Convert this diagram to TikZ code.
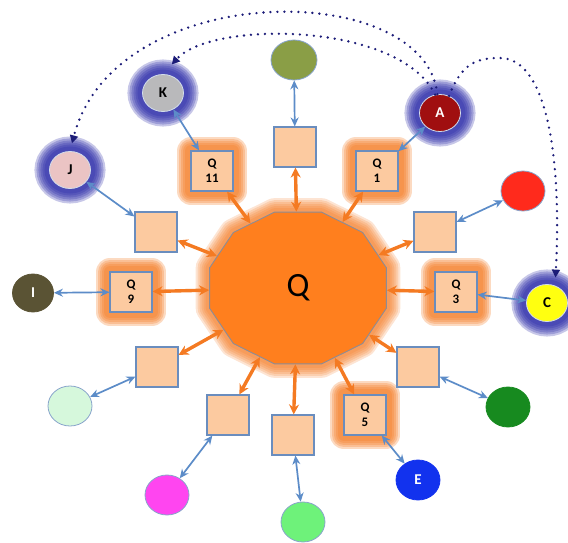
\documentclass[tikz,border=0pt]{standalone}
\usepackage{fontspec}
\setmainfont{Carlito}
\usetikzlibrary{shapes.geometric, arrows.meta}

\definecolor{peach}{HTML}{FCCAA0}
\definecolor{steel}{HTML}{6A8DBE}
\definecolor{linkblue}{HTML}{5C8CC8}
\definecolor{hubfill}{HTML}{FF7F1E}
\definecolor{hubedge}{HTML}{8C8C96}
\definecolor{glowor}{HTML}{F47A22}
\definecolor{navyglow}{HTML}{2626A6}
\definecolor{dotnavy}{HTML}{1C1C78}
\definecolor{olivetop}{HTML}{8A9E46}
\definecolor{kgray}{HTML}{B9B9BB}
\definecolor{adark}{HTML}{A00F10}
\definecolor{jpink}{HTML}{EBC4C4}
\definecolor{redc}{HTML}{FF2A1C}
\definecolor{idark}{HTML}{5A5334}
\definecolor{cyellow}{HTML}{FFFF10}
\definecolor{mint}{HTML}{D6F8DC}
\definecolor{magent}{HTML}{FF45F0}
\definecolor{lgreen}{HTML}{6EF27A}
\definecolor{eblue}{HTML}{1232EE}
\definecolor{dgreen}{HTML}{178A1F}

\tikzset{
  % soft halo built from stacked translucent outlines
  orglow/.style={line join=round, draw=glowor, draw opacity=.28},
  blueglow/.style={draw=navyglow, draw opacity=.26},
  box/.style={rectangle, draw=steel, line width=1.1pt, fill=peach,
    minimum width=42pt, minimum height=40pt, inner sep=0pt,
    font=\bfseries\fontsize{13}{15}\selectfont, align=center},
  hotbox/.style={box,
    preaction={orglow, line width=28pt},
    preaction={orglow, line width=24pt},
    preaction={orglow, line width=20pt},
    preaction={orglow, line width=16pt},
    preaction={orglow, line width=12pt}},
  ball/.style={ellipse, draw=steel!80, line width=.8pt,
    minimum width=44pt, minimum height=40pt, inner sep=0pt,
    font=\bfseries\fontsize{15}{15}\selectfont},
  haloball/.style={ball, draw=white!70!steel,
    minimum width=41pt, minimum height=37pt,
    preaction={blueglow, line width=30pt},
    preaction={blueglow, line width=26pt},
    preaction={blueglow, line width=22pt},
    preaction={blueglow, line width=18pt},
    preaction={blueglow, line width=14pt},
    preaction={blueglow, line width=10pt}},
  hub/.style={regular polygon, regular polygon sides=12, minimum size=157pt,
    inner sep=0pt, fill=hubfill, draw=hubedge, line width=.9pt,
    preaction={orglow, draw opacity=.2, line width=28pt},
    preaction={orglow, draw opacity=.2, line width=24pt},
    preaction={orglow, draw opacity=.2, line width=20pt},
    preaction={orglow, draw opacity=.2, line width=16pt},
    preaction={orglow, draw opacity=.2, line width=12pt},
    preaction={orglow, draw opacity=.2, line width=8pt}},
  spoke/.style={draw=glowor, line width=3.4pt,
    {Stealth[length=10pt,width=10pt]}-{Stealth[length=10pt,width=10pt]}},
  link/.style={draw=linkblue, line width=1.7pt,
    {Stealth[length=9pt,width=8pt]}-{Stealth[length=9pt,width=8pt]}},
  dotline/.style={draw=dotnavy, line width=2.6pt, line cap=round,
    dash pattern=on 0pt off 7pt, -{Triangle[length=8pt,width=8pt]}},
}

\begin{document}
\begin{tikzpicture}[x=1pt, y=-1pt]
  \useasboundingbox (0,0) rectangle (568,543);

  % central hub, slightly wider than tall
  \begin{scope}[shift={(298,288)}, xscale=1.165]
    \node[hub, transform shape] (Q) at (0,0) {};
  \end{scope}
  \node[font=\fontsize{34}{34}\selectfont] (Qlabel) at (Q.center) {Q};

  % ring of boxes
  \node[box]    (top) at (295,147) {};
  \node[hotbox] (q11) at (212,171) {Q\\11};
  \node[hotbox] (q1)  at (377,171) {Q\\1};
  \node[box]    (ul)  at (156,232) {};
  \node[box]    (ur)  at (435,232) {};
  \node[hotbox] (q9)  at (131,292) {Q\\9};
  \node[hotbox] (q3)  at (456,292) {Q\\3};
  \node[box]    (ll)  at (157,367) {};
  \node[box]    (lm)  at (228,415) {};
  \node[box]    (bot) at (293,435) {};
  \node[hotbox] (q5)  at (365,415) {Q\\5};
  \node[box]    (lr)  at (418,367) {};

  % outer circles
  \node[ball, fill=olivetop, minimum width=46pt] (ctop) at (294,60) {};
  \node[haloball, fill=kgray]  (K) at (163,93) {K};
  \node[haloball, fill=adark, text=white] (A) at (440,113) {A};
  \node[haloball, fill=jpink]  (J) at (70,170) {J};
  \node[ball, fill=redc]       (R) at (523,191) {};
  \node[ball, fill=idark, draw=idark, text=white, minimum width=41pt, minimum height=38pt] (I) at (33,293) {I};
  \node[haloball, fill=cyellow] (C) at (547,303) {C};
  \node[ball, fill=mint]       (M) at (70,406) {};
  \node[ball, fill=magent]     (Mg) at (167,495) {};
  \node[ball, fill=lgreen]     (G) at (303,522) {};
  \node[ball, fill=eblue, draw=eblue, text=white] (E) at (418,480) {E};
  \node[ball, fill=dgreen, draw=dgreen] (D) at (508,407) {};

  % hub to boxes
  \foreach \n in {top,q11,q1,ul,ur,q9,q3,ll,lm,bot,q5,lr}
    \draw[spoke] (Q) -- (\n);

  % boxes to circles
  \draw[link] (ctop) -- (top);
  \draw[link] (K) -- (q11);
  \draw[link] (A) -- (q1);
  \draw[link] (J) -- (ul);
  \draw[link] (R) -- (ur);
  \draw[link] (I) -- (q9);
  \draw[link] (C) -- (q3);
  \draw[link] (M) -- (ll);
  \draw[link] (Mg) -- (lm);
  \draw[link] (G) -- (bot);
  \draw[link] (E) -- (q5);
  \draw[link] (D) -- (lr);

  % dotted hand-offs from A
  \draw[dotline, shorten >=13pt] (A.105) .. controls (400,22) and (212,20) .. (K.north);
  \draw[dotline, shorten >=8pt] (A.98) .. controls (425,-22) and (115,-22) .. (J.north);
  \draw[dotline, shorten >=8pt] (A.62) .. controls (462,62) and (478,58) .. (500,58)
        .. controls (545,58) and (562,150) .. (C.65);
\end{tikzpicture}
\end{document}
